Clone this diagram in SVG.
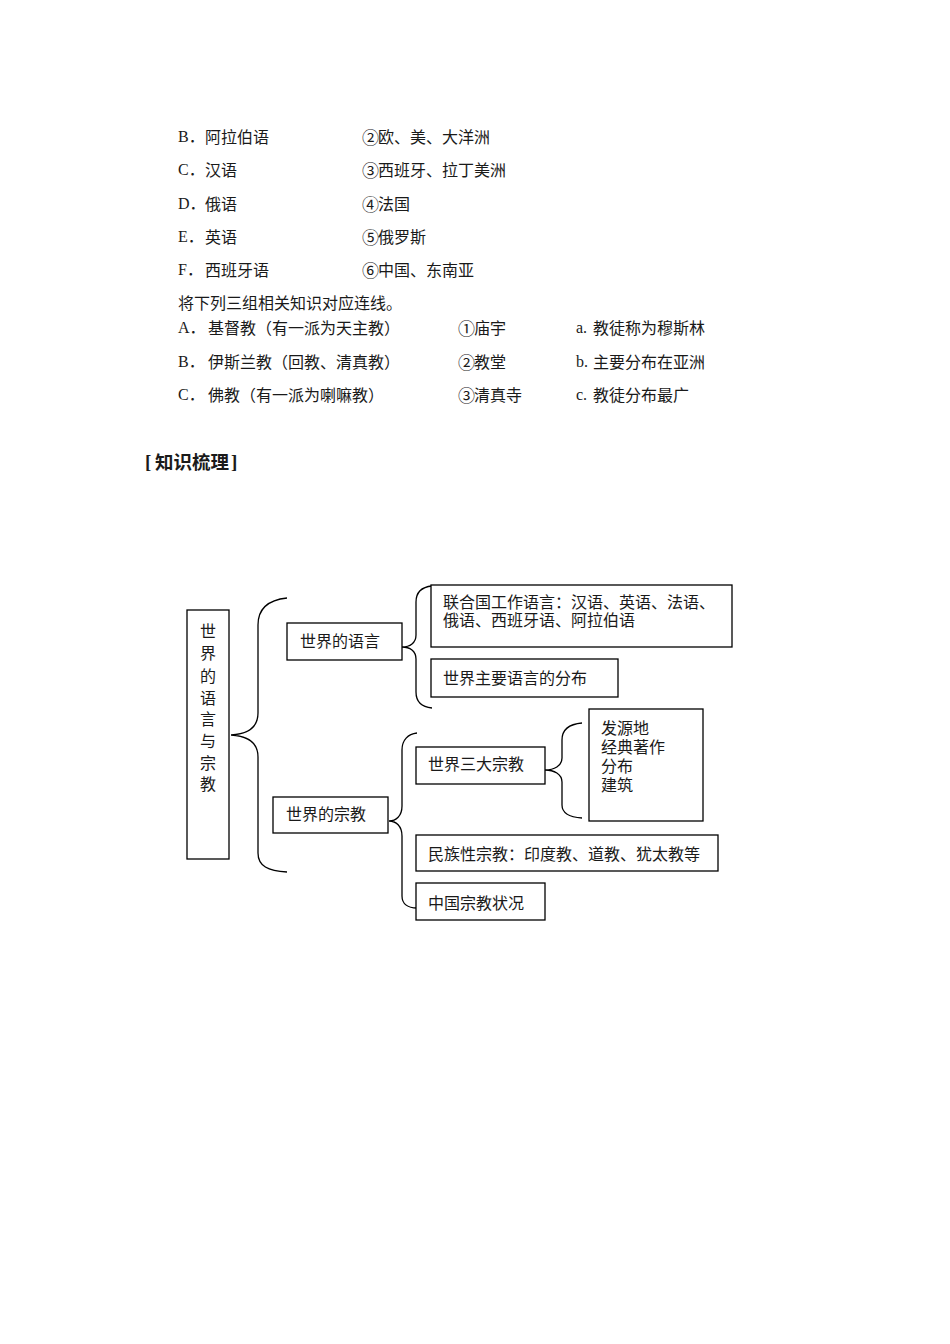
<svg xmlns="http://www.w3.org/2000/svg" width="950" height="1344" viewBox="0 0 950 1344">
<style>
text{font-family:"Noto Sans CJK SC","Liberation Serif",sans-serif;font-size:16px;fill:#1a1a1a;dominant-baseline:central}
.l{font-family:"Liberation Serif","Noto Sans CJK SC",serif}
.b{fill:#fff;stroke:#000;stroke-width:1.3}
.c{fill:none;stroke:#000;stroke-width:1.3}
.h{font-weight:bold;font-size:18.5px}
.hb{font-family:"Liberation Serif",serif;font-weight:bold;font-size:19px}
.m{text-anchor:middle}
.n{font-size:17px}
</style>
<rect width="950" height="1344" fill="#fff"/>
<g id="exercise">
<text class="l" x="178" y="136">B．</text><text x="205" y="136">阿拉伯语</text><text class="n" x="362" y="136">②</text><text x="378" y="136">欧、美、大洋洲</text>
<text class="l" x="178" y="169">C．</text><text x="205" y="169">汉语</text><text class="n" x="362" y="169">③</text><text x="378" y="169">西班牙、拉丁美洲</text>
<text class="l" x="178" y="203">D．</text><text x="205" y="203">俄语</text><text class="n" x="362" y="203">④</text><text x="378" y="203">法国</text>
<text class="l" x="178" y="236">E．</text><text x="205" y="236">英语</text><text class="n" x="362" y="236">⑤</text><text x="378" y="236">俄罗斯</text>
<text class="l" x="178" y="269">F．</text><text x="205" y="269">西班牙语</text><text class="n" x="362" y="269">⑥</text><text x="378" y="269">中国、东南亚</text>
<text x="178" y="302">将下列三组相关知识对应连线。</text>
<text class="l" x="178" y="327">A．</text><text x="208" y="327">基督教（有一派为天主教）</text><text class="n" x="458" y="327">①</text><text x="474" y="327">庙宇</text><text class="l" x="576" y="327">a.</text><text x="593" y="327">教徒称为穆斯林</text>
<text class="l" x="178" y="361">B．</text><text x="208" y="361">伊斯兰教（回教、清真教）</text><text class="n" x="458" y="361">②</text><text x="474" y="361">教堂</text><text class="l" x="576" y="361">b.</text><text x="593" y="361">主要分布在亚洲</text>
<text class="l" x="178" y="394">C．</text><text x="208" y="394">佛教（有一派为喇嘛教）</text><text class="n" x="458" y="394">③</text><text x="474" y="394">清真寺</text><text class="l" x="576" y="394">c.</text><text x="593" y="394">教徒分布最广</text>
<text class="hb" x="145" y="461">[</text><text class="h" x="155" y="461">知识梳理</text><text class="hb" x="231" y="461">]</text>
</g>
<g id="connectors">
<path class="c" d="M287,598 C268,600 258,608 258,625 L258,713 C258,727 248,734 231,735 C248,736 258,743 258,757 L258,853 C258,866 268,871 287,872"/>
<path class="c" d="M432,586 C422,587 416,592 416,602 L416,635 C416,643 410,647 402,647 C410,647 416,651 416,659 L416,692 C416,702 422,707 432,708"/>
<path class="c" d="M417,733 C408,734 402,740 402,750 L402,806 C402,816 396,821 389,821 C396,821 402,826 402,836 L402,896 C402,904 408,908 417,908"/>
<path class="c" d="M582,723 C570,724 562,729 562,740 L562,758 C562,766 554,770 545,770 C554,770 562,774 562,782 L562,805 C562,814 570,817 582,818"/>
</g>
<g id="n-main"><rect class="b" x="187" y="610" width="42" height="249"/>
<text class="m" x="208" y="630">世<tspan x="208" dy="22">界</tspan><tspan x="208" dy="23">的</tspan><tspan x="208" dy="22">语</tspan><tspan x="208" dy="21">言</tspan><tspan x="208" dy="22">与</tspan><tspan x="208" dy="22">宗</tspan><tspan x="208" dy="21">教</tspan></text></g>
<g id="n-lang"><rect class="b" x="287" y="623" width="115" height="37"/><text x="300" y="640">世界的语言</text></g>
<g id="n-rel"><rect class="b" x="273" y="797" width="115" height="36"/><text x="286" y="813">世界的宗教</text></g>
<g id="n-un"><rect class="b" x="431" y="585" width="301" height="62"/><text x="443" y="601">联合国工作语言：汉语、英语、法语、<tspan x="443" dy="18">俄语、西班牙语、阿拉伯语</tspan></text></g>
<g id="n-dist"><rect class="b" x="431" y="659" width="187" height="38"/><text x="443" y="677">世界主要语言的分布</text></g>
<g id="n-three"><rect class="b" x="416" y="747" width="129" height="37"/><text x="428" y="763">世界三大宗教</text></g>
<g id="n-aspects"><rect class="b" x="589" y="709" width="114" height="112"/><text x="601" y="727">发源地<tspan x="601" dy="19">经典著作</tspan><tspan x="601" dy="19">分布</tspan><tspan x="601" dy="19">建筑</tspan></text></g>
<g id="n-ethnic"><rect class="b" x="416" y="835" width="302" height="36"/><text x="428" y="853">民族性宗教：印度教、道教、犹太教等</text></g>
<g id="n-china"><rect class="b" x="416" y="883" width="129" height="37"/><text x="428" y="902">中国宗教状况</text></g>
</svg>
